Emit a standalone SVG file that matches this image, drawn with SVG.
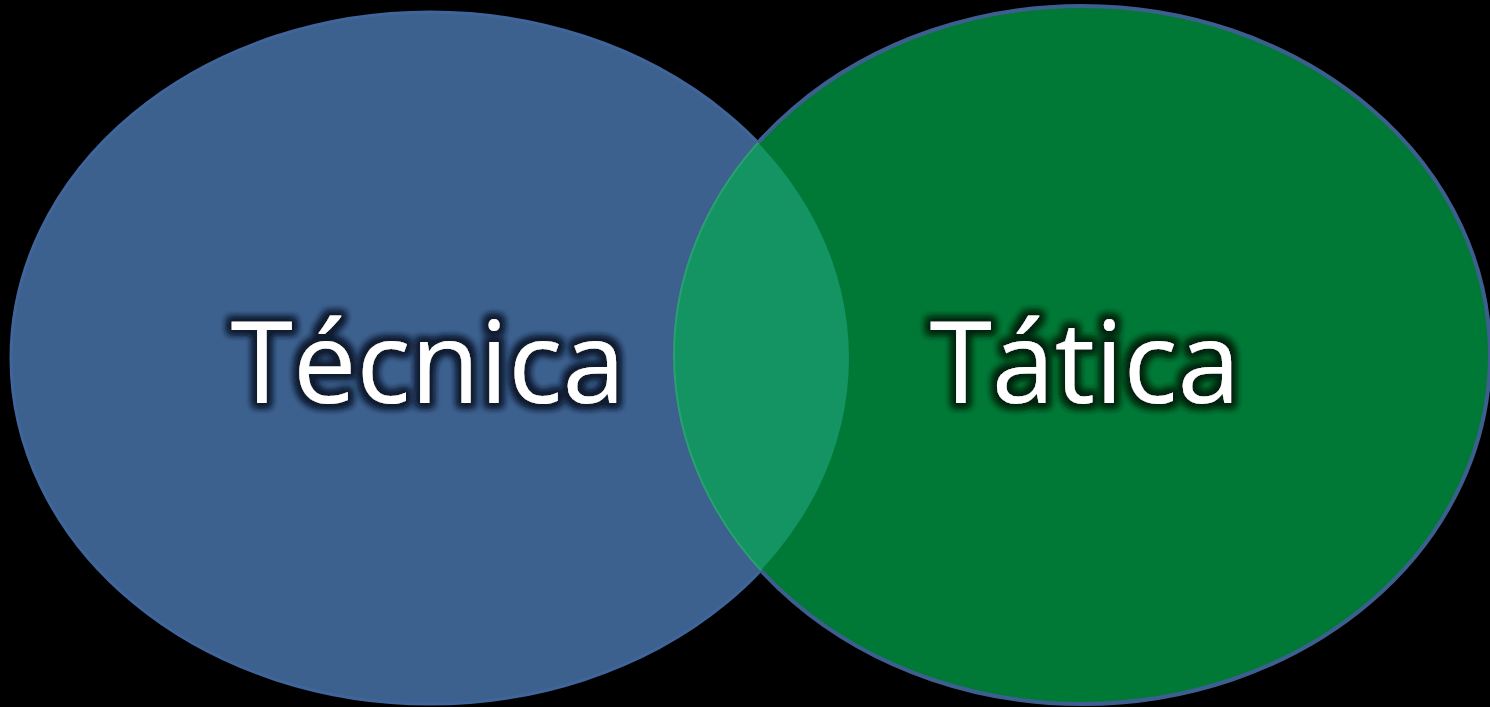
<svg xmlns="http://www.w3.org/2000/svg" width="1490" height="707" viewBox="0 0 1490 707">
<defs>
<style>
.lbl{font-family:"Open Sans","Noto Sans","Liberation Sans",sans-serif;font-size:113px;font-weight:500;fill:#ffffff;text-anchor:middle}
</style>
<filter id="glowBlue" x="-20%" y="-40%" width="140%" height="180%">
<feMorphology in="SourceAlpha" operator="dilate" radius="4" result="d"/>
<feGaussianBlur in="d" stdDeviation="3.5" result="b"/>
<feFlood flood-color="#101d30" flood-opacity="1"/>
<feComposite in2="b" operator="in" result="g"/>
<feMerge><feMergeNode in="g"/><feMergeNode in="g"/><feMergeNode in="SourceGraphic"/></feMerge>
</filter>
<filter id="glowGreen" x="-20%" y="-40%" width="140%" height="180%">
<feMorphology in="SourceAlpha" operator="dilate" radius="4" result="d"/>
<feGaussianBlur in="d" stdDeviation="3.5" result="b"/>
<feFlood flood-color="#03260e" flood-opacity="1"/>
<feComposite in2="b" operator="in" result="g"/>
<feMerge><feMergeNode in="g"/><feMergeNode in="g"/><feMergeNode in="SourceGraphic"/></feMerge>
</filter>
<clipPath id="blueClip"><ellipse cx="430" cy="358" rx="419" ry="346"/></clipPath>
</defs>
<rect width="1490" height="707" fill="#000000"/>
<g id="tecnica">
<ellipse cx="430" cy="358" rx="419" ry="346" fill="#3d618f" stroke="#40659a" stroke-width="3"/>
</g>
<g id="tatica">
<ellipse cx="1082" cy="355" rx="408" ry="349" fill="#007836" stroke="#3d5f8f" stroke-width="4"/>
</g>
<g id="intersecao">
<ellipse cx="1082" cy="355" rx="408" ry="349" fill="#139462" stroke="#2aa070" stroke-width="2" clip-path="url(#blueClip)"/>
</g>
<g id="labels">
<text class="lbl" x="428" y="403" filter="url(#glowBlue)">Técnica</text>
<text class="lbl" x="1085" y="403" filter="url(#glowGreen)">Tática</text>
</g>
<g id="connectors"/>
</svg>
